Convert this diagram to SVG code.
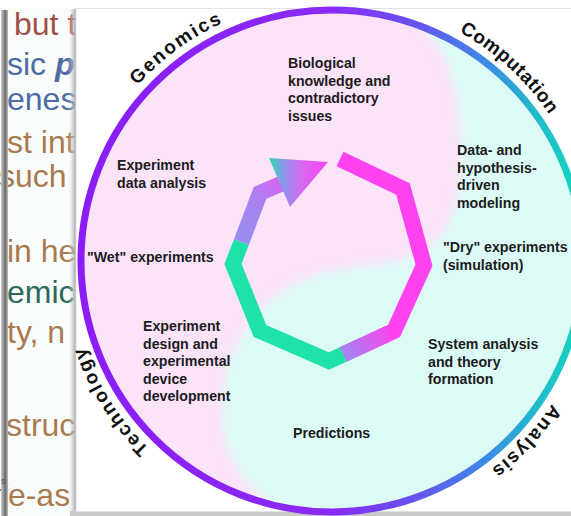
<svg xmlns="http://www.w3.org/2000/svg" width="571" height="516" viewBox="0 0 571 516">
  <style>
    .slide { font-family: "Liberation Sans", Arial, sans-serif; font-size: 32px; }
    .brown { fill: #A97A4F; }
    .red { fill: #A34F47; }
    .blue { fill: #4D6BA6; }
    .teal { fill: #2C6A58; }
    .lbl { font-family: "Liberation Sans", Arial, Helvetica, sans-serif; font-weight: bold; font-size: 14.2px; fill: #1c1c1c; }
    .ringlbl { font-family: "Liberation Sans", Arial, Helvetica, sans-serif; font-weight: bold; font-size: 19px; fill: #111; }
    .band { fill: none; stroke-width: 16; stroke-linejoin: miter; stroke-miterlimit: 10; stroke-linecap: butt; }
  </style>
  <defs>
    <linearGradient id="ringGrad" gradientUnits="userSpaceOnUse" x1="80" y1="0" x2="583" y2="0">
      <stop offset="0" stop-color="#8B1CF7"/>
      <stop offset="0.5" stop-color="#8A2AF4"/>
      <stop offset="0.67" stop-color="#6554F0"/>
      <stop offset="0.8" stop-color="#3F86E6"/>
      <stop offset="0.9" stop-color="#22B8CC"/>
      <stop offset="1" stop-color="#14D8BE"/>
    </linearGradient>
    <linearGradient id="fadeLow" gradientUnits="userSpaceOnUse" x1="394" y1="331" x2="343" y2="354.5">
      <stop offset="0" stop-color="#FF42F0"/>
      <stop offset="1" stop-color="#A085EF"/>
    </linearGradient>
    <linearGradient id="fadeShaft" gradientUnits="userSpaceOnUse" x1="241" y1="242" x2="288" y2="180">
      <stop offset="0" stop-color="#9A8EEF"/>
      <stop offset="0.55" stop-color="#A883F0"/>
      <stop offset="1" stop-color="#E05CF2"/>
    </linearGradient>
    <linearGradient id="headGrad" gradientUnits="userSpaceOnUse" x1="269" y1="0" x2="328" y2="0">
      <stop offset="0" stop-color="#1FE2A8"/>
      <stop offset="0.25" stop-color="#8E96EE"/>
      <stop offset="0.55" stop-color="#D668F2"/>
      <stop offset="1" stop-color="#FF42F0"/>
    </linearGradient>
    <linearGradient id="edgeShade" x1="0" y1="0" x2="1" y2="0">
      <stop offset="0" stop-color="#cfcfcf"/>
      <stop offset="0.6" stop-color="#6a6a6a"/>
      <stop offset="1" stop-color="#bdbdbd"/>
    </linearGradient>
    <linearGradient id="panelShade" x1="0" y1="0" x2="1" y2="0">
      <stop offset="0" stop-color="#f4f6f5" stop-opacity="0"/>
      <stop offset="1" stop-color="#9a9a9a"/>
    </linearGradient>
    <filter id="soft" filterUnits="userSpaceOnUse" x="0" y="-60" width="700" height="640">
      <feGaussianBlur stdDeviation="5"/>
    </filter>
    <clipPath id="disc">
      <circle cx="332" cy="261" r="248"/>
    </clipPath>
    <clipPath id="slideStrip">
      <rect x="0" y="0" width="76" height="516"/>
    </clipPath>
    <path id="labelArc" d="M 70,261 A 262 262 0 1 1 594,261 A 262 262 0 1 1 70,261"/>
  </defs>

  <!-- slide behind the figure -->
  <g id="slide-background">
    <rect x="0" y="0" width="571" height="516" fill="#F8FCFA"/>
    <rect x="0" y="0" width="571" height="8" fill="#ffffff"/>
    <g clip-path="url(#slideStrip)">
      <text class="slide red" x="14" y="35">but t</text>
      <text class="slide blue" x="7" y="75">sic <tspan font-weight="bold" font-style="italic">p</tspan></text>
      <text class="slide blue" x="7" y="110">enes</text>
      <text class="slide brown" x="7" y="153">st int</text>
      <text class="slide brown" x="-1" y="187">such</text>
      <text class="slide brown" x="7" y="262">in he</text>
      <text class="slide teal" x="7" y="303">emic</text>
      <text class="slide brown" x="7" y="343">ty, n</text>
      <text class="slide brown" x="6" y="436">struc</text>
      <text class="slide brown" x="-1" y="506">fe-as</text>
    </g>
    <rect x="1" y="10" width="7" height="506" fill="url(#edgeShade)"/>
    <text x="1" y="484" font-family="Liberation Sans, Arial, sans-serif" font-size="9" fill="#555">s</text>
  </g>

  <!-- white figure panel -->
  <g id="panel">
    <rect x="68" y="9" width="8" height="507" fill="url(#panelShade)"/>
    <rect x="70" y="511" width="501" height="5" fill="#c9c9c9"/>
    <rect x="76" y="8.5" width="500" height="503" fill="#ffffff" stroke="#e2e4e3" stroke-width="1"/>
  </g>

  <!-- disc with the two soft halves and the coloured rim -->
  <g id="disc-background">
    <circle cx="332" cy="261" r="248" fill="#FBE3FA"/>
    <g clip-path="url(#disc)">
      <path filter="url(#soft)" fill="#DDFBF6" d="M 416,-10 L 425,30 C 448,50 460,90 461,150 C 462,210 447,243 412,257 C 372,270 322,264 286,289 C 246,317 222,360 222,410 C 222,458 248,492 290,515 L 640,540 L 640,-30 Z"/>
    </g>
    <circle cx="332" cy="261" r="251" fill="none" stroke="url(#ringGrad)" stroke-width="7"/>
  </g>

  <g id="ring-labels">
    <text class="ringlbl" letter-spacing="2"><textPath href="#labelArc" startOffset="246" text-anchor="middle">Genomics</textPath></text>
    <text class="ringlbl" letter-spacing="0.6"><textPath href="#labelArc" startOffset="606" text-anchor="middle">Computation</textPath></text>
    <text class="ringlbl" letter-spacing="1.6"><textPath href="#labelArc" startOffset="1019" text-anchor="middle">Analysis</textPath></text>
    <text class="ringlbl" letter-spacing="1.8"><textPath href="#labelArc" startOffset="1498" text-anchor="middle">Technology</textPath></text>
  </g>

  <!-- the cycle arrow -->
  <g id="connectors">
    <path class="band" stroke="#FF42F0" d="M340,159 L403,189 L424,265 L394,331 L343,354.5"/>
    <path class="band" stroke="url(#fadeLow)" d="M389,333.3 L343,354.5"/>
    <path class="band" stroke="#1FE2A8" d="M343,354.5 L329,361 L260,331 L233,264 L241.4,242"/>
    <path class="band" stroke="url(#fadeShaft)" d="M241.4,242 L260,193 L284,182.5"/>
    <polygon points="269,158 328,162 290,207" fill="url(#headGrad)"/>
  </g>

  <g id="node-knowledge">
    <text class="lbl" x="288" y="68">Biological<tspan x="288" dy="17.6">knowledge and</tspan><tspan x="288" dy="17.6">contradictory</tspan><tspan x="288" dy="17.6">issues</tspan></text>
  </g>
  <g id="node-modeling">
    <text class="lbl" x="457" y="155">Data- and<tspan x="457" dy="17.6">hypothesis-</tspan><tspan x="457" dy="17.6">driven</tspan><tspan x="457" dy="17.6">modeling</tspan></text>
  </g>
  <g id="node-dry">
    <text class="lbl" x="443" y="252">"Dry" experiments<tspan x="443" dy="17.6">(simulation)</tspan></text>
  </g>
  <g id="node-theory">
    <text class="lbl" x="428" y="349">System analysis<tspan x="428" dy="17.6">and theory</tspan><tspan x="428" dy="17.6">formation</tspan></text>
  </g>
  <g id="node-predictions">
    <text class="lbl" x="293" y="438">Predictions</text>
  </g>
  <g id="node-design">
    <text class="lbl" x="143" y="331">Experiment<tspan x="143" dy="17.6">design and</tspan><tspan x="143" dy="17.6">experimental</tspan><tspan x="143" dy="17.6">device</tspan><tspan x="143" dy="17.6">development</tspan></text>
  </g>
  <g id="node-wet">
    <text class="lbl" x="87" y="262">"Wet" experiments</text>
  </g>
  <g id="node-data-analysis">
    <text class="lbl" x="117" y="170">Experiment<tspan x="117" dy="17.6">data analysis</tspan></text>
  </g>
</svg>
